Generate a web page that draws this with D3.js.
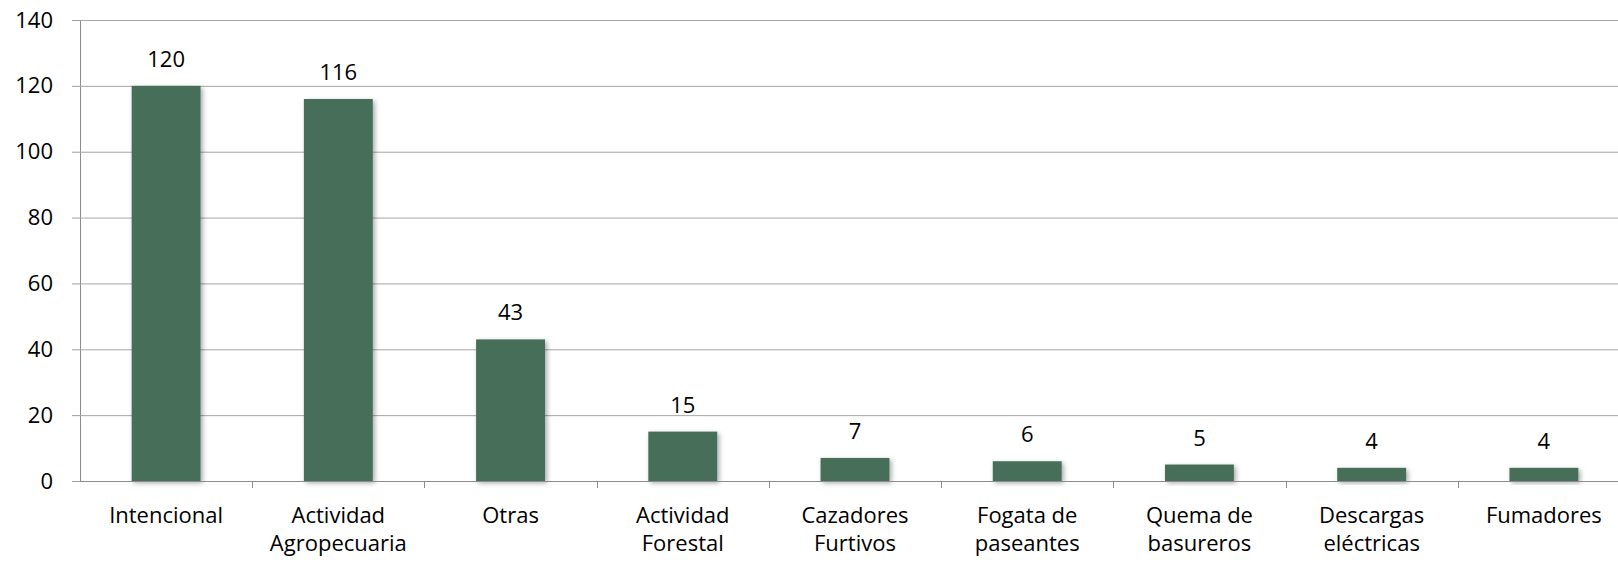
<!DOCTYPE html>
<html>
<head>
<meta charset="utf-8">
<script src="https://cdn.jsdelivr.net/npm/d3@7"></script>
<style>
  body { margin: 0; background: #fff; }
  svg { display: block; font-family: "Open Sans", sans-serif; }
</style>
</head>
<body>
<svg id="chart" width="1618" height="562"></svg>
<script>
// causes of fires and counts
const categories = [
  ["Intencional"],
  ["Actividad", "Agropecuaria"],
  ["Otras"],
  ["Actividad", "Forestal"],
  ["Cazadores", "Furtivos"],
  ["Fogata de", "paseantes"],
  ["Quema de", "basureros"],
  ["Descargas", "eléctricas"],
  ["Fumadores"]
];
const values = [120, 116, 43, 15, 7, 6, 5, 4, 4];
const yTicks = [0, 20, 40, 60, 80, 100, 120, 140];

const svg = d3.select('#chart');
const plotLeft = 80, plotRight = 1630, plotTop = 20, plotBottom = 481;
const fontSize = 22;

var defs = svg.append('defs');
var f = defs.append('filter').attr('id', 'shadow')
  .attr('x', '-20%').attr('y', '-20%').attr('width', '150%').attr('height', '150%');
f.append('feDropShadow')
  .attr('dx', 2).attr('dy', 2).attr('stdDeviation', 2.5)
  .attr('flood-color', '#000').attr('flood-opacity', 0.35);

const x = d3.scaleBand()
  .domain(d3.range(categories.length))
  .range([plotLeft, plotRight])
  .paddingInner(0.6).paddingOuter(0.3);

const y = d3.scaleLinear().domain([0, 140]).range([plotBottom, plotTop]);

// gridlines + y labels
const yAxis = svg.append('g')
  .attr('transform', 'translate(' + plotLeft + ',0)')
  .call(d3.axisLeft(y).tickValues(yTicks).tickSize(8).tickPadding(19).tickSizeOuter(0));
yAxis.select('.domain').attr('stroke', '#8c8c8c');
yAxis.selectAll('.tick line').attr('stroke', '#9e9e9e');
yAxis.selectAll('.tick text').attr('font-size', fontSize).attr('fill', '#000')
  .attr('font-family', '"Open Sans", sans-serif');

svg.append('g').selectAll('line')
  .data(yTicks.filter(d => d > 0))
  .join('line')
  .attr('x1', plotLeft).attr('x2', 1618)
  .attr('y1', d => y(d) + 0.5).attr('y2', d => y(d) + 0.5)
  .attr('stroke', '#a6a6a6').attr('stroke-width', 1);

// bars
svg.append('g').selectAll('rect')
  .data(values)
  .join('rect')
  .attr('x', (d, i) => x(i))
  .attr('y', d => y(d))
  .attr('width', x.bandwidth())
  .attr('height', d => y(0) - y(d))
  .attr('fill', '#466e59')
  .attr('filter', 'url(#shadow)');

// x axis line and ticks
svg.append('line')
  .attr('x1', plotLeft).attr('x2', 1618)
  .attr('y1', plotBottom + 0.5).attr('y2', plotBottom + 0.5)
  .attr('stroke', '#8c8c8c');
svg.append('g').selectAll('line')
  .data(d3.range(1, categories.length))
  .join('line')
  .attr('x1', i => Math.round(plotLeft + i * (plotRight - plotLeft) / categories.length) + 0.5)
  .attr('x2', i => Math.round(plotLeft + i * (plotRight - plotLeft) / categories.length) + 0.5)
  .attr('y1', plotBottom).attr('y2', plotBottom + 7)
  .attr('stroke', '#8c8c8c');

// value labels
svg.append('g').selectAll('text')
  .data(values)
  .join('text')
  .attr('x', (d, i) => x(i) + x.bandwidth() / 2)
  .attr('y', d => y(d) - 19)
  .attr('text-anchor', 'middle')
  .attr('font-size', fontSize)
  .text(d => d);

// category labels
const catG = svg.append('g').selectAll('text')
  .data(categories)
  .join('text')
  .attr('x', (d, i) => x(i) + x.bandwidth() / 2)
  .attr('y', 523)
  .attr('text-anchor', 'middle')
  .attr('font-size', fontSize);
catG.selectAll('tspan')
  .data(d => d)
  .join('tspan')
  .attr('x', function() { return d3.select(this.parentNode).attr('x'); })
  .attr('dy', (d, i) => i === 0 ? 0 : 28)
  .text(d => d);
</script>
</body>
</html>
